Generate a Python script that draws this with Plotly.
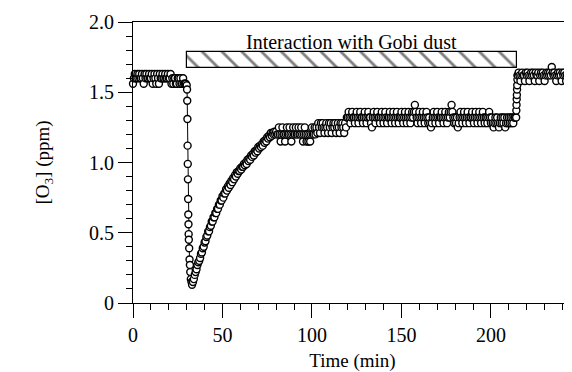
import plotly.graph_objects as go

# O3 concentration (ppm) vs time (min) (~0.5 min sampling)

# before the dust
base_start = 0.0
base_o3 = [1.56, 1.60, 1.63, 1.60, 1.60, 1.63, 1.60, 1.63, 1.60, 1.60,
           1.63, 1.60, 1.56, 1.63, 1.60, 1.63, 1.60, 1.60, 1.63, 1.60,
           1.60, 1.63, 1.56, 1.60, 1.63, 1.60, 1.56, 1.63, 1.60, 1.56,
           1.63, 1.60, 1.60, 1.63, 1.60, 1.60, 1.63, 1.60, 1.60, 1.63,
           1.60, 1.60, 1.63, 1.56, 1.60, 1.56, 1.60, 1.60, 1.56, 1.56,
           1.60, 1.60, 1.56, 1.60, 1.56, 1.56, 1.60, 1.56, 1.56, 1.56]

# sharp drop when dust is introduced
drop_t = [30.0, 30.2, 30.3, 30.4, 30.5, 30.6, 30.7, 30.8, 30.9, 31.0,
          31.1, 31.2, 31.4, 31.6, 31.8, 32.0, 32.3, 32.7, 33.0]
drop_o3 = [1.55, 1.52, 1.44, 1.31, 1.12, 0.99, 0.88, 0.74, 0.63, 0.56,
           0.49, 0.45, 0.39, 0.31, 0.27, 0.22, 0.17, 0.15, 0.13]

# recovery
rec_start = 33.5
rec_o3 = [0.15, 0.17, 0.20, 0.22, 0.24, 0.27, 0.29, 0.30, 0.32, 0.35,
          0.36, 0.39, 0.40, 0.43, 0.44, 0.47, 0.48, 0.51, 0.51, 0.54,
          0.55, 0.58, 0.58, 0.61, 0.61, 0.64, 0.64, 0.67, 0.67, 0.70,
          0.70, 0.73, 0.73, 0.76, 0.75, 0.78, 0.78, 0.81, 0.80, 0.83,
          0.82, 0.85, 0.84, 0.87, 0.86, 0.89, 0.88, 0.91, 0.90, 0.93,
          0.92, 0.94, 0.94, 0.96, 0.95, 0.97, 0.97, 0.99, 0.98, 1.00,
          0.99, 1.02, 1.01, 1.03, 1.02, 1.05, 1.04, 1.06, 1.05, 1.08,
          1.07, 1.09, 1.08, 1.11, 1.10, 1.12, 1.11, 1.13, 1.12, 1.15,
          1.14, 1.16, 1.15, 1.18, 1.17, 1.19, 1.18, 1.21, 1.19, 1.21,
          1.20, 1.22, 1.20, 1.22, 1.20]

# slow approach to the plateau
mid_start = 81.0
mid_o3 = [1.20, 1.25, 1.20, 1.15, 1.20, 1.25, 1.20, 1.20, 1.15, 1.20,
          1.25, 1.20, 1.20, 1.25, 1.20, 1.15, 1.20, 1.25, 1.20, 1.20,
          1.25, 1.20, 1.20, 1.25, 1.20, 1.20, 1.25, 1.20, 1.15, 1.20,
          1.25, 1.20, 1.15, 1.20, 1.15, 1.20, 1.15, 1.20, 1.25, 1.20,
          1.20, 1.25, 1.20, 1.25, 1.21, 1.28, 1.25, 1.21, 1.28, 1.25,
          1.28, 1.25, 1.21, 1.25, 1.28, 1.25, 1.21, 1.28, 1.25, 1.28,
          1.21, 1.25, 1.28, 1.25, 1.28, 1.21, 1.25, 1.28, 1.25, 1.21,
          1.28, 1.25, 1.28, 1.25, 1.21, 1.28, 1.25, 1.32]

# plateau during interaction
plat_start = 120.0
plat_o3 = [1.32, 1.36, 1.32, 1.28, 1.32, 1.36, 1.32, 1.32, 1.28, 1.32,
           1.36, 1.32, 1.28, 1.32, 1.36, 1.32, 1.32, 1.28, 1.32, 1.36,
           1.32, 1.28, 1.32, 1.36, 1.32, 1.32, 1.28, 1.25, 1.32, 1.36,
           1.32, 1.28, 1.32, 1.36, 1.32, 1.32, 1.28, 1.32, 1.36, 1.32,
           1.28, 1.32, 1.36, 1.32, 1.28, 1.32, 1.32, 1.36, 1.32, 1.28,
           1.32, 1.36, 1.32, 1.28, 1.32, 1.36, 1.32, 1.28, 1.32, 1.32,
           1.36, 1.32, 1.28, 1.32, 1.36, 1.32, 1.28, 1.32, 1.36, 1.32,
           1.28, 1.32, 1.36, 1.32, 1.36, 1.41, 1.36, 1.32, 1.28, 1.32,
           1.36, 1.32, 1.28, 1.32, 1.36, 1.32, 1.28, 1.32, 1.36, 1.32,
           1.28, 1.32, 1.28, 1.25, 1.28, 1.32, 1.36, 1.32, 1.28, 1.32,
           1.36, 1.32, 1.28, 1.32, 1.32, 1.36, 1.32, 1.28, 1.32, 1.36,
           1.32, 1.28, 1.32, 1.36, 1.32, 1.36, 1.41, 1.36, 1.32, 1.28,
           1.32, 1.28, 1.32, 1.25, 1.28, 1.32, 1.36, 1.32, 1.28, 1.32,
           1.36, 1.32, 1.28, 1.32, 1.36, 1.32, 1.28, 1.32, 1.32, 1.36,
           1.32, 1.28, 1.32, 1.36, 1.32, 1.28, 1.32, 1.36, 1.32, 1.28,
           1.32, 1.36, 1.32, 1.28, 1.32, 1.32, 1.28, 1.32, 1.36, 1.32,
           1.28, 1.32, 1.28, 1.25, 1.28, 1.32, 1.28, 1.32, 1.28, 1.25,
           1.28, 1.32, 1.28, 1.32, 1.28, 1.32, 1.25, 1.28, 1.32, 1.28,
           1.32, 1.28, 1.32, 1.28, 1.32, 1.28, 1.32, 1.32]

# dust removed
rise_t = [214.1, 214.2, 214.3, 214.4, 214.5, 214.6, 214.7, 214.8, 214.9]
rise_o3 = [1.32, 1.37, 1.41, 1.45, 1.48, 1.52, 1.55, 1.59, 1.62]

end_start = 215.0
end_o3 = [1.62, 1.64, 1.62, 1.58, 1.62, 1.64, 1.62, 1.62, 1.58, 1.64,
          1.62, 1.64, 1.62, 1.58, 1.62, 1.64, 1.62, 1.64, 1.62, 1.58,
          1.64, 1.62, 1.62, 1.64, 1.58, 1.62, 1.64, 1.62, 1.64, 1.62,
          1.58, 1.62, 1.64, 1.62, 1.64, 1.62, 1.64, 1.62, 1.68, 1.64,
          1.62, 1.64, 1.62, 1.58, 1.62, 1.64, 1.62, 1.64, 1.62, 1.58,
          1.64, 1.62, 1.64, 1.62, 1.58, 1.62, 1.64, 1.62, 1.64, 1.62,
          1.64, 1.62, 1.64, 1.62]

# interaction period marker
dust_start, dust_end = 30.2, 214.5
dust_label = "Interaction with Gobi dust"


def half_min(start, vals):
    return [start + 0.5 * i for i in range(len(vals))]


t = (half_min(base_start, base_o3) + drop_t + half_min(rec_start, rec_o3)
     + half_min(mid_start, mid_o3) + half_min(plat_start, plat_o3)
     + rise_t + half_min(end_start, end_o3))
o3 = base_o3 + drop_o3 + rec_o3 + mid_o3 + plat_o3 + rise_o3 + end_o3

FONT = "Liberation Serif, Times New Roman, serif"

fig = go.Figure()

fig.add_trace(go.Bar(
    x=[(dust_start + dust_end) / 2], y=[0.113], base=[1.673],
    width=[dust_end - dust_start],
    marker=dict(color="white", line=dict(color="black", width=1.2),
                pattern=dict(shape="\\", size=14, solidity=0.2,
                             fgcolor="black", bgcolor="white")),
    showlegend=False, hoverinfo="skip"))

fig.add_trace(go.Scatter(
    x=t, y=o3, mode="lines+markers", cliponaxis=False,
    line=dict(color="black", width=1),
    marker=dict(symbol="circle", size=7, color="white",
                line=dict(color="black", width=1.4)),
    showlegend=False))

fig.add_annotation(x=(dust_start + dust_end) / 2, y=1.86, text=dust_label,
                   showarrow=False, font=dict(family=FONT, size=20, color="black"))

title_font = dict(family=FONT, size=19, color="black")

# page body adds 8 px, so figure is 8 px smaller than the window
fig.update_layout(
    width=564, height=364,
    margin=dict(l=125, r=0, t=14, b=69),
    paper_bgcolor="white", plot_bgcolor="white",
    font=dict(family=FONT, size=20, color="black"),
    bargap=0,
    xaxis=dict(range=[0, 245.3], showline=True, linecolor="black", linewidth=1,
               mirror=True, showgrid=False, zeroline=False, automargin=False,
               ticks="outside", ticklen=14, tickcolor="black",
               tickvals=[0, 50, 100, 150, 200],
               minor=dict(dtick=10, ticks="outside", ticklen=6, tickcolor="black"),
               title=dict(text="Time (min)", standoff=9, font=title_font)),
    yaxis=dict(range=[0, 2.0], showline=True, linecolor="black", linewidth=1,
               showgrid=False, zeroline=False, automargin=False,
               ticks="outside", ticklen=14, tickcolor="black",
               tickvals=[0, 0.5, 1.0, 1.5, 2.0],
               ticktext=["0", "0.5", "1.0", "1.5", "2.0"],
               minor=dict(dtick=0.1, ticks="outside", ticklen=6, tickcolor="black"),
               title=dict(text="[O<sub>3</sub>] (ppm)", standoff=34,
                          font=title_font)),
)

fig.write_html("out.html")
